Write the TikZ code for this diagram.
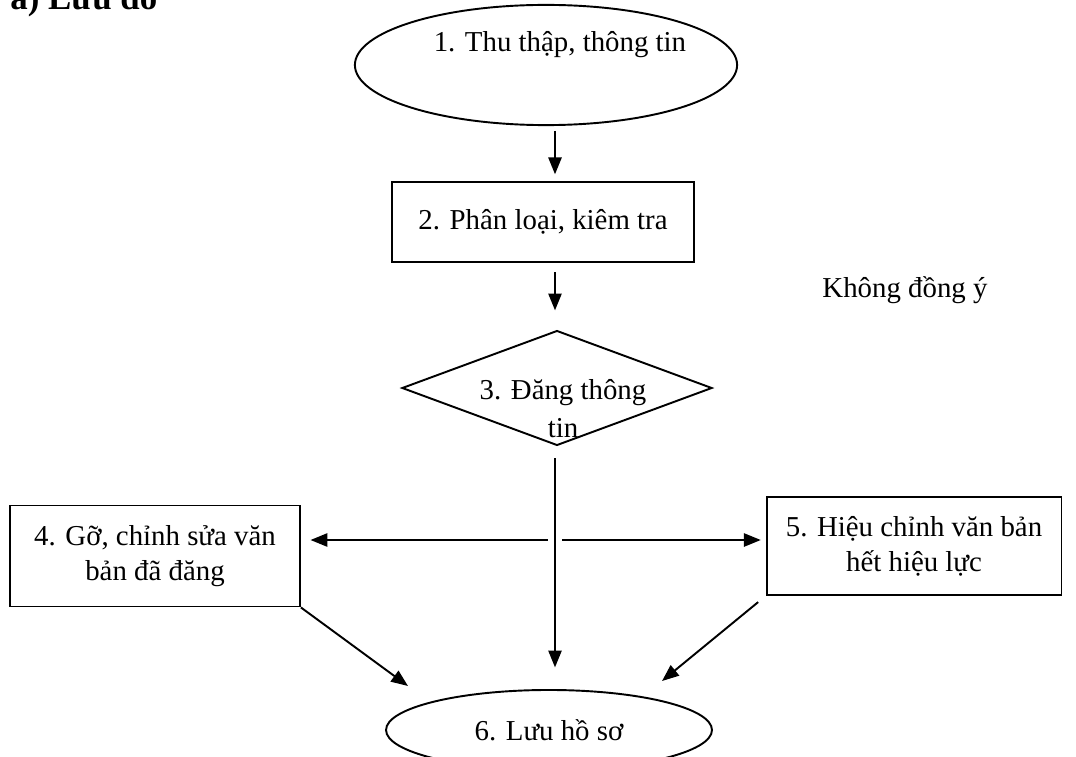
\documentclass[tikz,border=0pt]{standalone}
\usepackage{fontspec}
\setmainfont{Liberation Serif}
\usetikzlibrary{shapes.geometric,arrows.meta}

\tikzset{
    txt/.style={font=\fontsize{12}{14.5}\selectfont},
    stepbox/.style={txt, draw, line width=0.8pt, align=center, inner sep=2pt},
    oval/.style={txt, draw, ellipse, line width=0.8pt, inner sep=1pt},
    decision/.style={draw, diamond, line width=0.8pt, inner sep=0pt},
    arr/.style={-{Triangle[length=7pt,width=5.5pt]}, line width=0.8pt}
}

\begin{document}
\begin{tikzpicture}[x=0.416pt, y=-0.416pt]
    % Fix the page size
    \useasboundingbox (0,0) rectangle (1076,756);

    % Heading, cut at the top
    \node[anchor=base west, font=\bfseries\fontsize{14.5}{17}\selectfont] (title) at (2,10) {a) Lưu đồ};

    % The steps
    \node[oval, minimum width=159pt, minimum height=50pt,
          label={[txt, xshift=5.8pt, yshift=8.3pt]center:1. Thu thập, thông tin}] (thu) at (546,65) {};
    \node[stepbox, minimum width=125.6pt, minimum height=32.9pt] (phan) at (543,222) {2. Phân loại, kiêm tra};
    \node[decision, minimum width=129pt, minimum height=47.8pt,
          label={[txt, align=center, xshift=2.5pt, yshift=-8.7pt, font=\fontsize{12}{15.8}\selectfont]center:3. Đăng thông\\tin}] (dang) at (557,388) {};
    \node[stepbox, minimum width=120.6pt, minimum height=42pt] (go) at (155,556) {4. Gỡ, chỉnh sửa văn\\bản đã đăng};
    \node[stepbox, minimum width=122.7pt, minimum height=40.8pt] (hieu) at (914,546) {5. Hiệu chỉnh văn bản\\hết hiệu lực};
    \node[oval, minimum width=135.6pt, minimum height=33.3pt] (luu) at (549,730) {6. Lưu hồ sơ};

    \node[txt] (khong) at (905,290) {Không đồng ý};

    % Free ends and the split point
    \coordinate (split) at (555,540);
    \coordinate (in4) at (408,686);
    \coordinate (in5) at (662,681);

    % Connectors
    \draw[arr, shorten <=2pt, shorten >=3pt] (thu.south -| split) -- (phan.north -| split);
    \draw[arr, shorten <=4pt, shorten >=8pt] (phan.south -| split) -- (dang.north -| split);
    \draw[arr, shorten <=5pt, shorten >=9pt] (dang.south -| split) -- (luu.north -| split);
    \draw[arr, shorten <=3pt, shorten >=4pt] (split) -- (split -| go.east);
    \draw[arr, shorten <=3pt, shorten >=2pt] (split) -- (split -| hieu.west);
    \draw[arr] (go.south east) -- (in4);
    \draw[arr, shorten <=4pt] (hieu.south west) -- (in5);
\end{tikzpicture}
\end{document}
